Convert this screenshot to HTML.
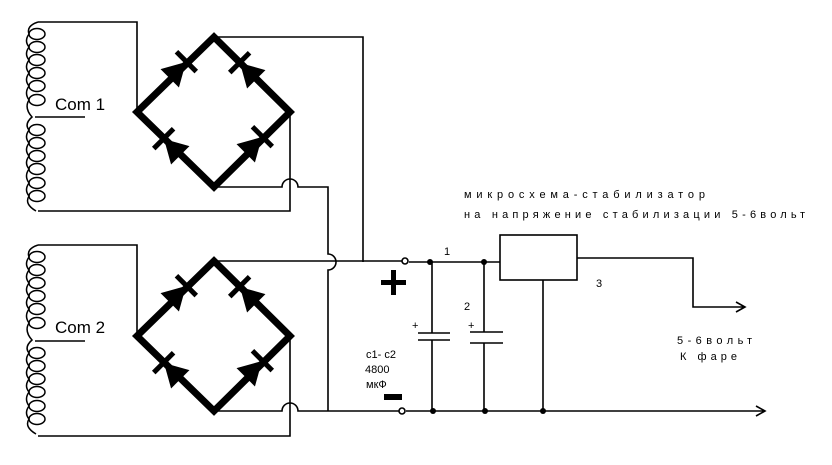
<!DOCTYPE html>
<html><head><style>body{margin:0;background:#fff}svg{display:block}text{font-family:"Liberation Sans","DejaVu Sans",sans-serif;fill:#000}</style></head><body>
<svg width="832" height="465" viewBox="0 0 832 465" xmlns="http://www.w3.org/2000/svg">
<defs>
<g id="d"><polygon points="0,0 -23,-13 -23,13" fill="#000"/><rect x="-2" y="-14" width="5" height="28" fill="#000"/></g>
<g id="coil" fill="none" stroke="#000" stroke-width="1.5">
<ellipse cx="37" cy="12" rx="8" ry="5.5"/><ellipse cx="37" cy="25" rx="8" ry="5.5"/><ellipse cx="37" cy="38" rx="8" ry="5.5"/><ellipse cx="37" cy="51" rx="8" ry="5.5"/><ellipse cx="37" cy="64" rx="8" ry="5.5"/><ellipse cx="37" cy="78" rx="8" ry="5.5"/>
<ellipse cx="37" cy="108" rx="8" ry="5.5"/><ellipse cx="37" cy="121" rx="8" ry="5.5"/><ellipse cx="37" cy="134" rx="8" ry="5.5"/><ellipse cx="37" cy="147" rx="8" ry="5.5"/><ellipse cx="37" cy="161" rx="8" ry="5.5"/><ellipse cx="37" cy="174" rx="8" ry="5.5"/>
<path d="M38,0 Q26,4 29,12 Q24,19 29,25 Q24,32 29,38 Q24,45 29,51 Q24,58 29,64 Q24,71 29,78 Q24,86 32,95 Q24,102 29,108 Q24,115 29,121 Q24,128 29,134 Q24,141 29,147 Q24,154 29,161 Q24,168 29,174 Q24,182 36,189"/>
</g>
<g id="bridge">
<path d="M137,112 L214,37 L290,112 L214,187 Z" fill="none" stroke="#000" stroke-width="7" stroke-linejoin="miter"/>
<use href="#d" transform="translate(186,62) rotate(-45)"/>
<use href="#d" transform="translate(240,63) rotate(-135)"/>
<use href="#d" transform="translate(164,139) rotate(-135)"/>
<use href="#d" transform="translate(262,137) rotate(-45)"/>
</g>
</defs>
<g transform="translate(0,22)"><use href="#coil"/></g>
<g transform="translate(0,245)"><use href="#coil"/></g>
<use href="#bridge"/>
<use href="#bridge" transform="translate(0,224)"/>
<g fill="none" stroke="#000" stroke-width="1.6">
<path d="M38,22 H137 V112"/>
<path d="M214,37 H363 V262"/>
<path d="M290,112 V211 H38"/>
<path d="M214,187 H282 A8,8 0 0 1 298,187 H328 V254 A8,8 0 0 1 328,270 V411"/>
<path d="M35,117 H85"/>
<path d="M38,245 H137 V336"/>
<path d="M214,261 H405"/>
<path d="M290,336 V436 H38"/>
<path d="M214,411 H282 A8,8 0 0 1 298,411 H402"/>
<path d="M35,341 H85"/>
<path d="M409,262 H500"/>
<rect x="500" y="235" width="77" height="45"/>
<path d="M577,258 H693 V307 H745 M736,302 L745,307 L736,312"/>
<path d="M543,280 V411"/>
<path d="M406,411 H765 M756,406 L765,411 L756,416"/>
<path d="M432,262 V333 M418,333 H450 M418,340 H450 M432,340 V411"/>
<path d="M484,262 V332 M470,332 H503 M470,343 H503 M484,343 V411"/>
</g>
<circle cx="405" cy="261" r="3" fill="#fff" stroke="#000" stroke-width="1.6"/>
<circle cx="402" cy="411" r="3" fill="#fff" stroke="#000" stroke-width="1.6"/>
<g fill="#000"><circle cx="430" cy="262" r="3"/><circle cx="484" cy="262" r="3"/><circle cx="433" cy="411" r="3"/><circle cx="485" cy="411" r="3"/><circle cx="543" cy="411" r="3"/>
<rect x="381" y="280" width="25" height="5"/><rect x="391" y="270" width="5" height="25"/><rect x="384" y="394" width="18" height="6"/></g>
<text x="55" y="110" font-size="17">Com 1</text>
<text x="55" y="333" font-size="17">Com 2</text>
<g font-size="11">
<text x="444" y="255">1</text><text x="464" y="310">2</text><text x="596" y="287">3</text>
<text x="412" y="329">+</text><text x="468" y="329">+</text>
<text x="366" y="358">c1- c2</text><text x="365" y="373">4800</text><text x="366" y="388">мкФ</text>
<text x="464" y="198" textLength="241" lengthAdjust="spacing">микросхема-стабилизатор</text>
<text x="464" y="218" textLength="341" lengthAdjust="spacing">на напряжение стабилизации 5-6вольт</text>
<text x="677" y="344" textLength="75" lengthAdjust="spacing">5-6вольт</text>
<text x="680" y="360" textLength="57" lengthAdjust="spacing">К фаре</text>
</g>
</svg>
</body></html>
